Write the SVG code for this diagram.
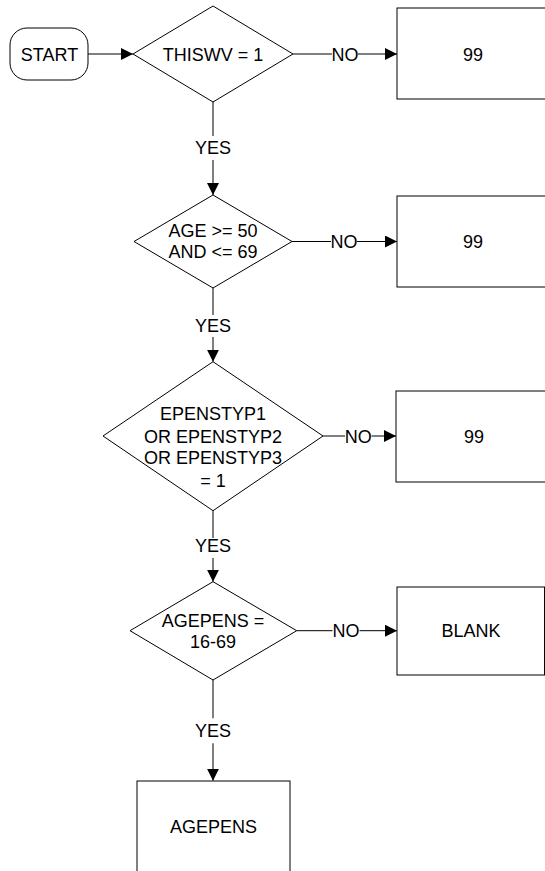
<svg xmlns="http://www.w3.org/2000/svg" width="545" height="871" viewBox="0 0 545 871">
<defs>
<style>
.shape{fill:#fff;stroke:#000;stroke-width:1}
.ln{fill:none;stroke:#000;stroke-width:1}
.arr{fill:none;stroke:#000;stroke-width:1;marker-end:url(#ah)}
text{font-family:"Liberation Sans",Arial,sans-serif;font-size:18px;fill:#000;text-anchor:middle}
</style>
<marker id="ah" markerUnits="userSpaceOnUse" markerWidth="12" markerHeight="12" refX="12" refY="6" orient="auto">
<path d="M0,0 L12,6 L0,12 Z" fill="#000"/>
</marker>
</defs>
<rect width="545" height="871" fill="#fff"/>

<g id="connectors">
<line class="arr" x1="88" y1="54" x2="133" y2="54"/>
<line class="ln" x1="293" y1="54" x2="332" y2="54"/>
<line class="arr" x1="358" y1="54" x2="397" y2="54"/>
<text x="345" y="60.5">NO</text>
<line class="ln" x1="213" y1="102" x2="213" y2="136"/>
<line class="arr" x1="213" y1="160" x2="213" y2="195"/>
<text x="213" y="154">YES</text>

<line class="ln" x1="292" y1="241.5" x2="331" y2="241.5"/>
<line class="arr" x1="357" y1="241.5" x2="397" y2="241.5"/>
<text x="344" y="248">NO</text>
<line class="ln" x1="213" y1="288" x2="213" y2="315"/>
<line class="arr" x1="213" y1="337" x2="213" y2="361.7"/>
<text x="213" y="331.5">YES</text>

<line class="ln" x1="323" y1="436" x2="345" y2="436"/>
<line class="arr" x1="371.5" y1="436" x2="396" y2="436"/>
<text x="358.3" y="442.5">NO</text>
<line class="ln" x1="213" y1="510.7" x2="213" y2="538"/>
<line class="arr" x1="213" y1="558" x2="213" y2="581.7"/>
<text x="213" y="551.5">YES</text>

<line class="ln" x1="296.7" y1="630.7" x2="332.5" y2="630.7"/>
<line class="arr" x1="359.5" y1="630.7" x2="397" y2="630.7"/>
<text x="346" y="637.2">NO</text>
<line class="ln" x1="213" y1="680" x2="213" y2="718.3"/>
<line class="arr" x1="213" y1="743.3" x2="213" y2="780.7"/>
<text x="213" y="737.2">YES</text>
</g>

<g id="start">
<rect class="shape" x="10" y="28" width="78" height="52" rx="17" ry="17"/>
<text x="49.5" y="60.5">START</text>
</g>

<g id="d1">
<polygon class="shape" points="213,6 293,54 213,102 133,54"/>
<text x="213" y="60.5">THISWV = 1</text>
</g>
<g id="b1">
<rect class="shape" x="397" y="8" width="152" height="91"/>
<text x="473" y="60.5">99</text>
</g>

<g id="d2">
<polygon class="shape" points="213,195 292,241.5 213,288 134,241.5"/>
<text x="213" y="236.5">AGE &gt;= 50</text>
<text x="213" y="258.2">AND &lt;= 69</text>
</g>
<g id="b2">
<rect class="shape" x="397" y="196" width="152" height="91"/>
<text x="473" y="248">99</text>
</g>

<g id="d3">
<polygon class="shape" points="213,361.7 323,436 213,510.7 103,436"/>
<text x="213" y="419.8">EPENSTYP1</text>
<text x="213" y="442.5">OR EPENSTYP2</text>
<text x="213" y="463.8">OR EPENSTYP3</text>
<text x="213" y="486.5">= 1</text>
</g>
<g id="b3">
<rect class="shape" x="396" y="391" width="154" height="91"/>
<text x="474" y="442.5">99</text>
</g>

<g id="d4">
<polygon class="shape" points="213,581.7 296.7,630.7 213,680 130,630.7"/>
<text x="213" y="626.5">AGEPENS =</text>
<text x="213" y="648.2">16-69</text>
</g>
<g id="b4">
<rect class="shape" x="397" y="587" width="147.5" height="88"/>
<text x="471" y="637.2">BLANK</text>
</g>

<g id="b5">
<rect class="shape" x="137" y="781" width="153" height="92"/>
<text x="213.5" y="832.5">AGEPENS</text>
</g>
</svg>
